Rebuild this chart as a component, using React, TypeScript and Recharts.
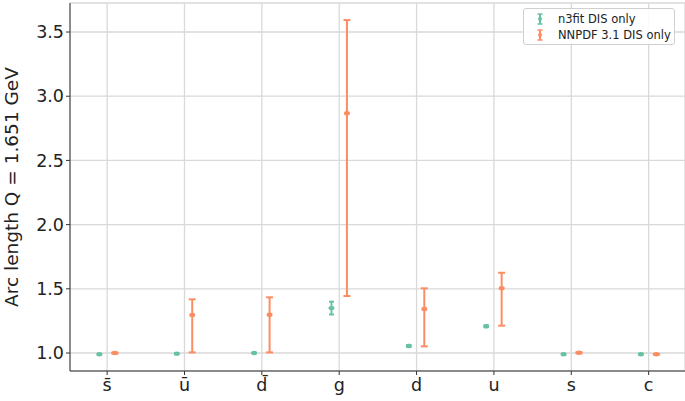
import React from 'react'
import { ComposedChart, Scatter, ErrorBar, XAxis, YAxis, CartesianGrid, Label } from 'recharts'

const categories = ['s\u0304', 'u\u0304', 'd\u0304', 'g', 'd', 'u', 's', 'c']

const n3fitCentral = [0.99, 0.995, 1.0, 1.35, 1.055, 1.208, 0.99, 0.99]
const n3fitLow = [0.989, 0.994, 0.999, 1.3, 1.047, 1.201, 0.989, 0.989]
const n3fitHigh = [0.991, 0.996, 1.001, 1.4, 1.063, 1.215, 0.991, 0.991]

const nnpdfCentral = [1.0, 1.296, 1.298, 2.867, 1.343, 1.504, 1.002, 0.99]
const nnpdfLow = [0.996, 1.005, 1.005, 1.444, 1.052, 1.213, 0.998, 0.988]
const nnpdfHigh = [1.004, 1.418, 1.434, 3.593, 1.504, 1.625, 1.006, 0.992]

const yTicks = [1.0, 1.5, 2.0, 2.5, 3.0, 3.5]

const TEAL = '#66c2a5'
const ORANGE = '#fc8d62'
const FONT = 'DejaVu Sans, sans-serif'

const shift = 0.1

const n3fitData = categories.map((c, i) => ({
  x: i - shift,
  y: n3fitCentral[i],
  err: [n3fitCentral[i] - n3fitLow[i], n3fitHigh[i] - n3fitCentral[i]],
}))

const nnpdfData = categories.map((c, i) => ({
  x: i + shift,
  y: nnpdfCentral[i],
  err: [nnpdfCentral[i] - nnpdfLow[i], nnpdfHigh[i] - nnpdfCentral[i]],
}))

const Dot = (color: string) => (props: any) => (
  <ellipse cx={props.cx} cy={props.cy} rx={3} ry={2.2} fill={color} />
)

const LegendIcon = ({ color }: { color: string }) => (
  <svg width={10} height={12} style={{ display: 'block' }}>
    <line x1={5} y1={1} x2={5} y2={11} stroke={color} strokeWidth={2} />
    <line x1={2.5} y1={1} x2={7.5} y2={1} stroke={color} strokeWidth={1.5} />
    <line x1={2.5} y1={11} x2={7.5} y2={11} stroke={color} strokeWidth={1.5} />
    <circle cx={5} cy={6} r={2} fill={color} />
  </svg>
)

export default function App() {
  return (
    <div style={{ position: 'absolute', left: 0, top: 0, width: 685, height: 401, overflow: 'hidden', background: '#fff' }}>
      <ComposedChart width={685} height={401} margin={{ top: 3, right: 0, bottom: 0, left: 0 }}>
        <CartesianGrid stroke="#d9d9d9" strokeWidth={1.3} />
        <XAxis
          type="number"
          dataKey="x"
          domain={[-0.48, 7.47]}
          ticks={categories.map((c, i) => i)}
          tickFormatter={(v: number) => categories[v] ?? ''}
          allowDataOverflow
          height={30}
          stroke="#333"
          tickSize={4}
          tickMargin={4}
          tick={{ fill: '#222', fontSize: 17.5, fontFamily: FONT }}
          interval={0}
        />
        <YAxis
          type="number"
          dataKey="y"
          domain={[0.86, 3.726]}
          ticks={yTicks}
          tickFormatter={(v: number) => v.toFixed(1)}
          allowDataOverflow
          width={70}
          stroke="#333"
          tickSize={4}
          tick={{ fill: '#222', fontSize: 17.5, fontFamily: FONT }}
        >
          <Label
            value="Arc length Q = 1.651 GeV"
            angle={-90}
            position="insideLeft"
            offset={11}
            style={{ textAnchor: 'middle', fontSize: 18.5, fontFamily: FONT, fill: '#222' }}
          />
        </YAxis>
        <Scatter name="n3fit DIS only" data={n3fitData} fill={TEAL} shape={Dot(TEAL)} isAnimationActive={false}>
          <ErrorBar dataKey="err" direction="y" width={2.5} stroke={TEAL} strokeWidth={2} />
        </Scatter>
        <Scatter name="NNPDF 3.1 DIS only" data={nnpdfData} fill={ORANGE} shape={Dot(ORANGE)} isAnimationActive={false}>
          <ErrorBar dataKey="err" direction="y" width={3.5} stroke={ORANGE} strokeWidth={2} />
        </Scatter>
      </ComposedChart>
      <div
        style={{
          position: 'absolute',
          left: 523,
          top: 8,
          width: 152,
          height: 37,
          boxSizing: 'border-box',
          border: '1px solid #d0d0d0',
          borderRadius: 3,
          background: 'rgba(255,255,255,0.85)',
          fontFamily: FONT,
          fontSize: 11.5,
          color: '#222',
          padding: '2px 0 0 11px',
        }}
      >
        <div style={{ display: 'flex', alignItems: 'center', height: 16 }}>
          <LegendIcon color={TEAL} />
          <span style={{ marginLeft: 13 }}>n3fit DIS only</span>
        </div>
        <div style={{ display: 'flex', alignItems: 'center', height: 16 }}>
          <LegendIcon color={ORANGE} />
          <span style={{ marginLeft: 13 }}>NNPDF 3.1 DIS only</span>
        </div>
      </div>
    </div>
  )
}
